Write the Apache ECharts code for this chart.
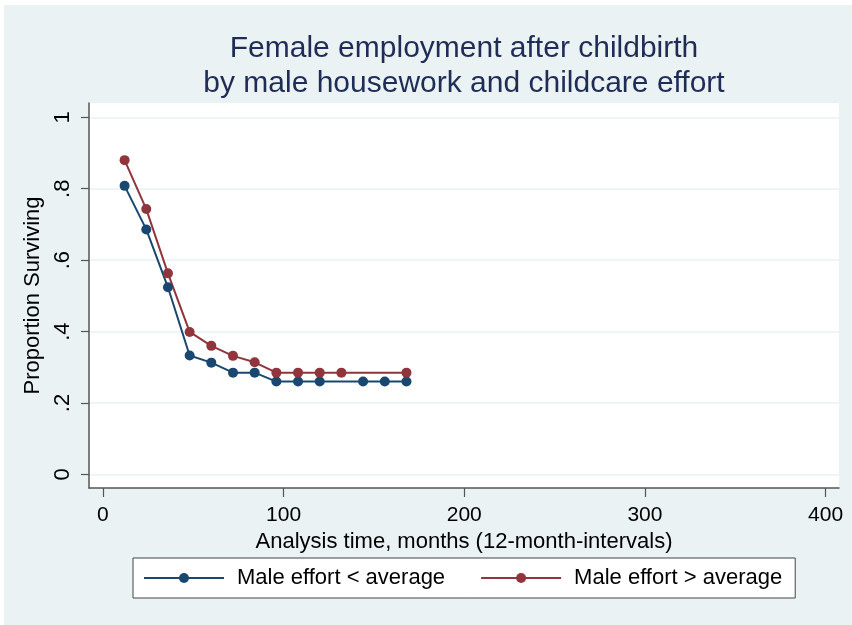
<!DOCTYPE html>
<html>
<head>
<meta charset="utf-8">
<script src="https://cdn.jsdelivr.net/npm/echarts@6/dist/echarts.min.js"></script>
<style>
  html, body { margin: 0; padding: 0; background: #ffffff; }
  #chart { width: 852px; height: 625px; }
</style>
</head>
<body>
<div id="chart"></div>
<script>
// Kaplan-Meier style survival estimates, 12-month intervals
const monthsLow = [12, 24, 36, 48, 60, 72, 84, 96, 108, 120, 144, 156, 168];
const survivalLow = [0.808, 0.686, 0.524, 0.333, 0.313, 0.285, 0.285, 0.260, 0.260, 0.260, 0.260, 0.260, 0.260];

const monthsHigh = [12, 24, 36, 48, 60, 72, 84, 96, 108, 120, 132, 168];
const survivalHigh = [0.880, 0.743, 0.563, 0.399, 0.360, 0.332, 0.314, 0.285, 0.285, 0.285, 0.285, 0.285];

const seriesNames = ['Male effort < average', 'Male effort > average'];
const xTicks = [0, 100, 200, 300, 400];
const yTicks = [0, 0.2, 0.4, 0.6, 0.8, 1];

const titleLines = ['Female employment after childbirth', 'by male housework and childcare effort'];
const xTitle = 'Analysis time, months (12-month-intervals)';
const yTitle = 'Proportion Surviving';

const FONT = '"Liberation Sans", Arial, Helvetica, sans-serif';
const NAVY = '#1a476f';
const MAROON = '#90353b';
const PANEL = '#eaf2f3';

const pairs = (xs, ys) => xs.map((x, i) => [x, ys[i]]);

const fmtY = v => {
  if (v === 0) return '0';
  if (v === 1) return '1';
  return String(Math.round(v * 10) / 10).replace(/^0/, '');
};

const chart = echarts.init(document.getElementById('chart'), null, { renderer: 'canvas' });

chart.setOption({
  animation: false,
  backgroundColor: PANEL,
  textStyle: { fontFamily: FONT },
  graphic: [
    { type: 'rect', shape: { x: 0, y: 0, width: 852, height: 5 }, style: { fill: '#ffffff' }, silent: true },
    { type: 'rect', shape: { x: 0, y: 0, width: 4, height: 625 }, style: { fill: '#ffffff' }, silent: true }
  ],
  title: {
    text: titleLines.join('\n'),
    left: 464,
    top: 31,
    textAlign: 'center',
    padding: 0,
    textStyle: {
      fontFamily: FONT,
      fontSize: 30,
      fontWeight: 'normal',
      color: '#1f2d56',
      lineHeight: 35
    }
  },
  grid: {
    left: 89,
    top: 103,
    right: 13,
    bottom: 137,
    show: true,
    backgroundColor: '#ffffff',
    borderWidth: 0
  },
  legend: {
    left: 133,
    top: 558,
    orient: 'horizontal',
    backgroundColor: '#ffffff',
    borderColor: '#444444',
    borderWidth: 1,
    padding: [9, 13, 9, 10],
    itemGap: 35,
    itemWidth: 80,
    itemHeight: 12.5,
    textStyle: {
      fontFamily: FONT,
      fontSize: 22,
      color: '#000000',
      padding: [0, 0, 0, 8]
    },
    data: seriesNames
  },
  xAxis: {
    type: 'value',
    min: -7.7,
    max: 407.4,
    name: xTitle,
    nameLocation: 'middle',
    nameGap: 41,
    nameTextStyle: { fontFamily: FONT, fontSize: 22, color: '#000000' },
    axisLine: { show: true, onZero: false, lineStyle: { color: '#555555', width: 1.5 } },
    axisTick: { show: true, length: 9, customValues: xTicks, lineStyle: { color: '#555555', width: 1.2 } },
    axisLabel: { customValues: xTicks, margin: 17, fontFamily: FONT, fontSize: 21, color: '#000000' },
    splitLine: { show: false }
  },
  yAxis: {
    type: 'value',
    min: -0.038,
    max: 1.040,
    name: yTitle,
    nameLocation: 'middle',
    nameRotate: 90,
    nameGap: 37,
    nameTextStyle: { fontFamily: FONT, fontSize: 22, color: '#000000' },
    axisLine: { show: true, onZero: false, lineStyle: { color: '#555555', width: 1.5 } },
    axisTick: { show: true, length: 8, customValues: yTicks, lineStyle: { color: '#555555', width: 1.2 } },
    axisLabel: {
      customValues: yTicks,
      rotate: 90,
      margin: 15,
      fontFamily: FONT,
      fontSize: 22,
      color: '#000000',
      formatter: fmtY
    },
    splitLine: { show: true, lineStyle: { color: PANEL, width: 1.5 } }
  },
  series: [
    {
      name: seriesNames[0],
      type: 'line',
      data: pairs(monthsLow, survivalLow),
      symbol: 'circle',
      symbolSize: 10,
      color: NAVY,
      lineStyle: { color: NAVY, width: 2 },
      itemStyle: { color: NAVY }
    },
    {
      name: seriesNames[1],
      type: 'line',
      data: pairs(monthsHigh, survivalHigh),
      symbol: 'circle',
      symbolSize: 10,
      color: MAROON,
      lineStyle: { color: MAROON, width: 2 },
      itemStyle: { color: MAROON }
    }
  ]
});
</script>
</body>
</html>
